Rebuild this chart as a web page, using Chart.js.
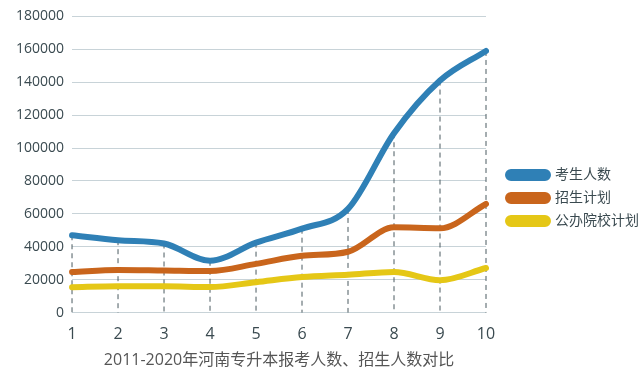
<!DOCTYPE html>
<html>
<head>
<meta charset="utf-8">
<script src="https://cdn.jsdelivr.net/npm/chart.js@4"></script>
<style>
  html, body { margin: 0; padding: 0; background: #fff; }
  #wrap { width: 641px; height: 386px; }
</style>
</head>
<body>
<div id="wrap"><canvas id="lineChart"></canvas></div>
<script>
const years = ['1', '2', '3', '4', '5', '6', '7', '8', '9', '10'];
const applicants = [47000, 44000, 42000, 31500, 42500, 51000, 63000, 109000, 141000, 159000];
const enrolPlan = [24700, 25900, 25600, 25300, 29600, 34500, 37000, 51800, 51200, 66000];
const publicPlan = [15400, 16000, 16000, 15500, 18500, 21600, 23000, 24700, 19700, 27100];
const seriesNames = ['考生人数', '招生计划', '公办院校计划'];
const yTicks = [0, 20000, 40000, 60000, 80000, 100000, 120000, 140000, 160000, 180000];

const fontFamily = '"Open Sans", "Noto Sans CJK SC", sans-serif';

// dashed drop lines from highest point of each category down to the axis
const dropLines = {
    id: 'dropLines',
    beforeDatasetsDraw(chart) {
        const ctx = chart.ctx;
        const x = chart.scales.x, y = chart.scales.y;
        ctx.save();
        ctx.strokeStyle = '#4a5a60';
        ctx.lineWidth = 1;
        ctx.setLineDash([5, 4]);
        years.forEach((lbl, i) => {
            const top = Math.max(applicants[i], enrolPlan[i], publicPlan[i]);
            const px = x.getPixelForValue(i);
            ctx.beginPath();
            ctx.moveTo(px, y.getPixelForValue(top));
            ctx.lineTo(px, y.getPixelForValue(0));
            ctx.stroke();
        });
        ctx.restore();
    }
};

// leave a wider gap between the plot and the legend
const legendGap = {
    id: 'legendGap',
    extraW: 5,
    shiftX: 13,
    shiftY: 3,
    afterInit(chart) {
        const lg = chart.legend;
        const fit = lg.fit;
        const self = this;
        lg.fit = function () {
            fit.call(this);
            this.width += self.extraW;
        };
    },
    afterLayout(chart) {
        chart.legend.left += this.shiftX;
        chart.legend.right += this.shiftX;
        chart.legend.top += this.shiftY;
        chart.legend.bottom += this.shiftY;
    }
};

const ctx = document.getElementById('lineChart').getContext('2d');
const lineChart = new Chart(ctx, {
    type: 'line',
    data: {
        labels: years,
        datasets: [{
            label: seriesNames[0],
            data: applicants,
            borderColor: '#2f80b6',
            backgroundColor: '#2f80b6'
        }, {
            label: seriesNames[1],
            data: enrolPlan,
            borderColor: '#c9651c',
            backgroundColor: '#c9651c'
        }, {
            label: seriesNames[2],
            data: publicPlan,
            borderColor: '#e5c716',
            backgroundColor: '#e5c716'
        }]
    },
    options: {
        responsive: true,
        maintainAspectRatio: false,
        animation: false,
        layout: { padding: { top: 16, right: 0, left: 8, bottom: 12 } },
        elements: {
            line: { borderWidth: 6, tension: 0.4, cubicInterpolationMode: 'monotone', borderCapStyle: 'round' },
            point: { radius: 0 }
        },
        plugins: {
            legend: {
                position: 'right',
                labels: {
                    boxWidth: 40,
                    boxHeight: 6,
                    padding: 9,
                    useBorderRadius: true,
                    borderRadius: 3,
                    color: '#3a4a50',
                    font: { family: fontFamily, size: 14 }
                }
            },
            tooltip: { enabled: false }
        },
        scales: {
            x: {
                offset: false,
                grid: { display: false },
                border: { display: false },
                ticks: { color: '#3a4a50', font: { family: fontFamily, size: 16 }, padding: 4 },
                title: {
                    display: true,
                    text: '2011-2020年河南专升本报考人数、招生人数对比',
                    color: '#555',
                    font: { family: fontFamily, size: 16 },
                    padding: { top: 3 }
                }
            },
            y: {
                min: 0,
                max: 180000,
                afterBuildTicks(axis) { axis.ticks = yTicks.map(v => ({ value: v })); },
                grid: { color: '#c8d3d8', drawTicks: false },
                border: { display: false },
                ticks: {
                    color: '#3a4a50',
                    font: { family: fontFamily, size: 14 },
                    padding: 8,
                    callback: v => String(v)
                }
            }
        }
    },
    plugins: [dropLines, legendGap]
});
</script>
</body>
</html>
